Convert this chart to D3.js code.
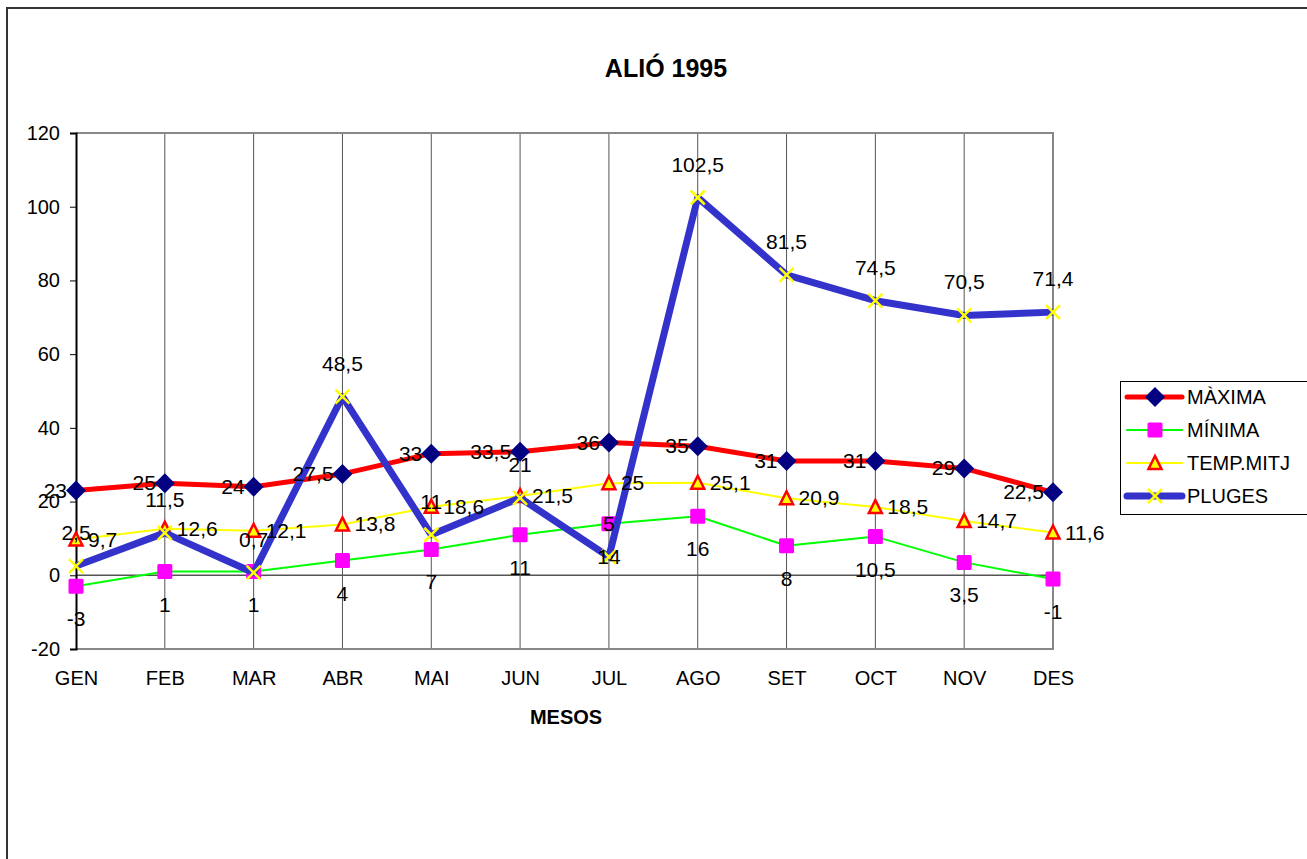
<!DOCTYPE html>
<html>
<head>
<meta charset="utf-8">
<script src="https://cdn.jsdelivr.net/npm/d3@7"></script>
<style>
  body { margin: 0; background: #fff; }
  svg { display: block; font-family: "Liberation Sans", Arial, sans-serif; }
</style>
</head>
<body>
<div class="chart-container"></div>
<script>
var months = ["GEN", "FEB", "MAR", "ABR", "MAI", "JUN", "JUL", "AGO", "SET", "OCT", "NOV", "DES"];
var maxima = [23, 25, 24, 27.5, 33, 33.5, 36, 35, 31, 31, 29, 22.5];
var minima = [-3, 1, 1, 4, 7, 11, 14, 16, 8, 10.5, 3.5, -1];
var tempMitj = [9.7, 12.6, 12.1, 13.8, 18.6, 21.5, 25, 25.1, 20.9, 18.5, 14.7, 11.6];
var pluges = [2.5, 11.5, 0.7, 48.5, 11, 21, 5, 102.5, 81.5, 74.5, 70.5, 71.4];
var yTicks = [-20, 0, 20, 40, 60, 80, 100, 120];

var W = 1307, H = 859;
var x = d3.scalePoint().domain(months).range([76, 1053]).padding(0);
var y = d3.scaleLinear().domain([-20, 120]).range([649, 133]);

var locale = d3.formatLocale({decimal: ",", thousands: ".", grouping: [3], currency: ["", "€"], minus: "-"});
var fmt = locale.format("~g");

var series = [
  {name: "MÀXIMA", values: maxima, color: "#ff0000", width: 5, marker: "diamond", label: "left"},
  {name: "MÍNIMA", values: minima, color: "#00ff00", width: 2, marker: "square", label: "below"},
  {name: "TEMP.MITJ", values: tempMitj, color: "#ffff00", width: 2, marker: "triangle", label: "right"},
  {name: "PLUGES", values: pluges, color: "#3333cc", width: 7, marker: "cross", label: "above"}
];

var svg = d3.select(".chart-container").append("svg")
    .attr("width", W)
    .attr("height", H);

// outer frame (only top and left visible)
svg.append("line").attr("x1", 6).attr("x2", W).attr("y1", 8).attr("y2", 8)
    .attr("stroke", "#333").attr("stroke-width", 2);
svg.append("line").attr("x1", 7).attr("x2", 7).attr("y1", 8).attr("y2", H)
    .attr("stroke", "#333").attr("stroke-width", 2);

// title
svg.append("text").attr("x", 666).attr("y", 77).attr("text-anchor", "middle")
    .attr("font-size", 25).attr("font-weight", "bold").text("ALIÓ 1995");

var plot = svg.append("g");

// vertical grid lines at each month
plot.selectAll("line.grid").data(months.slice(1, -1)).enter().append("line")
    .attr("class", "grid")
    .attr("x1", function(d) { return x(d); }).attr("x2", function(d) { return x(d); })
    .attr("y1", y(120)).attr("y2", y(-20))
    .attr("stroke", "#555").attr("stroke-width", 1);

// plot border (top, right, bottom)
plot.append("path")
    .attr("d", "M" + x("GEN") + "," + y(120) + "H" + x("DES") + "V" + y(-20) + "H" + x("GEN"))
    .attr("fill", "none").attr("stroke", "#888").attr("stroke-width", 2);

// zero line
plot.append("line").attr("x1", x("GEN")).attr("x2", x("DES")).attr("y1", y(0)).attr("y2", y(0))
    .attr("stroke", "#555").attr("stroke-width", 1.5);

// y axis
var yAxis = d3.axisLeft(y).tickValues(yTicks).tickSize(6).tickPadding(10).tickFormat(fmt);
var yg = plot.append("g").attr("transform", "translate(" + x("GEN") + ",0)").call(yAxis);
yg.select(".domain").attr("stroke", "#000").attr("stroke-width", 2);
yg.selectAll(".tick line").attr("stroke", "#000");
yg.selectAll("text").attr("font-size", 20).attr("font-family", "Liberation Sans, Arial, sans-serif").attr("fill", "#000");

// x labels
var xAxis = d3.axisBottom(x).tickSize(0).tickPadding(22);
var xg = plot.append("g").attr("transform", "translate(0," + y(-20) + ")").call(xAxis);
xg.select(".domain").remove();
xg.selectAll("text").attr("font-size", 20).attr("font-family", "Liberation Sans, Arial, sans-serif").attr("fill", "#000");

svg.append("text").attr("x", 566).attr("y", 724).attr("text-anchor", "middle")
    .attr("font-size", 20).attr("font-weight", "bold").text("MESOS");

function drawMarker(g, type) {
  if (type === "diamond") {
    g.append("path").attr("d", "M0,-10L10,0L0,10L-10,0Z").attr("fill", "#000080");
  } else if (type === "square") {
    g.append("rect").attr("x", -7.5).attr("y", -7.5).attr("width", 15).attr("height", 15)
        .attr("rx", 1.5).attr("fill", "#ff00ff");
  } else if (type === "triangle") {
    g.append("path").attr("d", "M0,-7L6.5,6L-6.5,6Z")
        .attr("fill", "#ffff00").attr("stroke", "#ff0000").attr("stroke-width", 2.5);
  } else if (type === "cross") {
    g.append("path").attr("d", "M-7,-7L7,7M-7,7L7,-7")
        .attr("stroke", "#ffff00").attr("stroke-width", 2.5);
  }
}

var line = d3.line()
    .x(function(d, i) { return x(months[i]); })
    .y(function(d) { return y(d); });

series.forEach(function(s) {
  var g = plot.append("g");
  g.append("path").attr("d", line(s.values))
      .attr("fill", "none").attr("stroke", s.color).attr("stroke-width", s.width)
      .attr("stroke-linejoin", "round");
  g.selectAll("g.pt").data(s.values).enter().append("g")
      .attr("class", "pt")
      .attr("transform", function(d, i) { return "translate(" + x(months[i]) + "," + y(d) + ")"; })
      .each(function() { drawMarker(d3.select(this), s.marker); });
});

// data labels on top
series.forEach(function(s) {
  plot.selectAll(null).data(s.values).enter().append("text")
      .attr("font-size", 21)
      .attr("fill", "#000")
      .attr("text-anchor", s.label === "left" ? "end" : s.label === "right" ? "start" : "middle")
      .attr("x", function(d, i) {
        var px = x(months[i]);
        if (s.label === "left") return px - 9;
        if (s.label === "right") return px + 12;
        return px;
      })
      .attr("y", function(d) {
        var py = y(d);
        if (s.label === "above") return py - 26;
        if (s.label === "below") return py + 40;
        return py + 7;
      })
      .text(function(d) { return fmt(d); });
});

// legend
var legend = svg.append("g");
legend.append("rect").attr("x", 1120.5).attr("y", 381.5).attr("width", 200).attr("height", 133)
    .attr("fill", "#fff").attr("stroke", "#000").attr("stroke-width", 1);
series.forEach(function(s, i) {
  var ly = 397 + i * 33;
  legend.append("line").attr("x1", 1127).attr("x2", 1182).attr("y1", ly).attr("y2", ly)
      .attr("stroke", s.color).attr("stroke-width", s.width).attr("stroke-linecap", "round");
  var mg = legend.append("g").attr("transform", "translate(1155," + ly + ")");
  drawMarker(mg, s.marker);
  legend.append("text").attr("x", 1187).attr("y", ly + 7).attr("font-size", 20).text(s.name);
});
</script>
</body>
</html>
